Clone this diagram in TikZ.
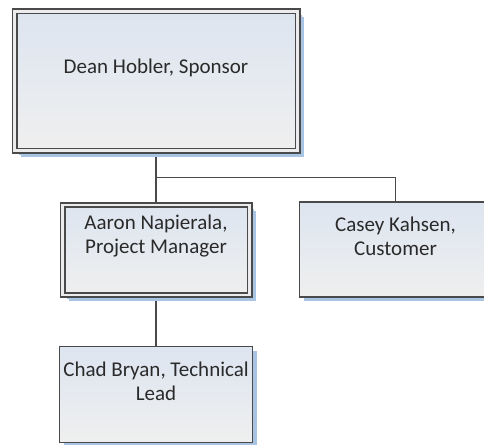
\documentclass[tikz,border=0pt]{standalone}
\usepackage{fontspec}
\setmainfont{Carlito}
\usetikzlibrary{calc,shadows,backgrounds}
\definecolor{boxline}{HTML}{4A4A4A}
\definecolor{boxtop}{HTML}{DDE5F0}
\definecolor{boxbottom}{HTML}{EFEFEF}
\definecolor{boxshadow}{HTML}{A9C4E2}
\definecolor{nametext}{HTML}{2A2A2A}
\tikzset{
  orgbox/.style={draw=boxline,line width=1.9pt,top color=boxtop,bottom color=boxbottom,
    drop shadow={shadow xshift=4pt,shadow yshift=-4pt,fill=boxshadow,opacity=1}},
  dblbox/.style={orgbox,double=white!85!gray,double distance=2.2pt,
    drop shadow={shadow xshift=6pt,shadow yshift=-6pt,fill=boxshadow,opacity=1}},
  orgtext/.style={align=center,text=nametext,font=\fontsize{21}{24}\selectfont},
  link/.style={draw=boxline,line width=1.9pt}
}

\begin{document}
\begin{tikzpicture}[x=1pt,y=-1pt]
    \useasboundingbox (0,0) rectangle (484,444);
    \node [dblbox,minimum width=283pt,minimum height=139pt] (sponsor) at (156,81) {};
    \node [dblbox,minimum width=187pt,minimum height=90pt] (pm) at (156,250) {};
    \node [orgbox,minimum width=192pt,minimum height=95pt] (cust) at (395.5,249.5) {};
    \node [orgbox,minimum width=193pt,minimum height=96pt] (lead) at (156,394.5) {};
    \node [orgtext] (sponsorname) at ($(sponsor)+(0,-13.5)$) {Dean Hobler, Sponsor};
    \node [orgtext] (pmname) at ($(pm)+(0,-13.5)$) {Aaron Napierala,\\Project Manager};
    \node [orgtext] (custname) at ($(cust)+(0,-13.5)$) {Casey Kahsen,\\Customer};
    \node [orgtext] (leadname) at ($(lead)+(0,-13.5)$) {Chad Bryan, Technical\\Lead};
    \coordinate (bus) at ($(sponsor.south)+(0,26)$);
    \begin{scope}[on background layer]
        \draw [link] (sponsor.south) -- (pm.north);
        \draw [link] (bus) -| (cust.north);
        \draw [link] (pm.south) -- (lead.north);
    \end{scope}
\end{tikzpicture}
\end{document}
